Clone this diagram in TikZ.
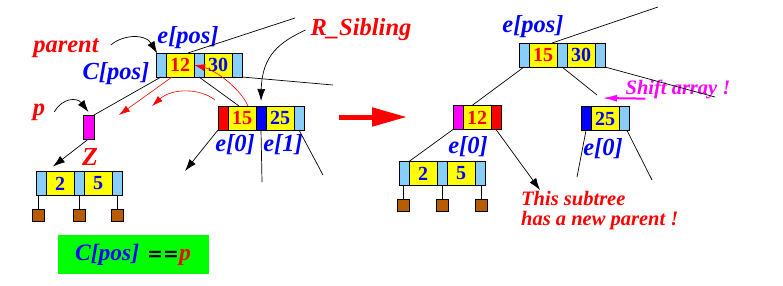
\documentclass[tikz,border=0pt]{standalone}
\usepackage{fontspec}
\usetikzlibrary{arrows.meta,positioning}
\newfontfamily\lblfont{Liberation Serif}
\newfontfamily\numfont{Liberation Serif}
\newfontfamily\eqfont{DejaVu Sans}
\definecolor{cellblue}{HTML}{87CEFA}
\definecolor{keyyellow}{HTML}{FFFF00}
\definecolor{leafbrown}{HTML}{B85C00}
\definecolor{txtblue}{HTML}{0000FF}
\definecolor{txtred}{HTML}{FF0000}
\definecolor{shiftpink}{HTML}{FF00FF}
\definecolor{boxgreen}{HTML}{00FF00}

\begin{document}
\begin{tikzpicture}[x=1pt,y=-1pt,
    cell/.style={draw,line width=0.9pt,minimum height=24pt,inner sep=0pt,outer sep=0pt},
    ptr/.style={cell,fill=cellblue,minimum width=10pt},
    keycell/.style={cell,fill=keyyellow,minimum width=28pt,font=\numfont\bfseries\fontsize{20}{20}\selectfont},
    leaf/.style={draw,line width=0.9pt,fill=leafbrown,minimum size=12pt,inner sep=0pt},
    lbl/.style={inner sep=0pt,font=\lblfont\bfseries\itshape\fontsize{24.5}{24.5}\selectfont},
    note/.style={inner sep=0pt,font=\lblfont\bfseries\itshape\fontsize{20.5}{20}\selectfont},
    link/.style={line width=0.7pt},
    tip/.style={-{Latex[length=12pt,width=8pt]}},
    redtip/.style={txtred,line width=0.6pt,-{Latex[length=11pt,width=7pt]}}]
  \useasboundingbox (0,0) rectangle (783,285);

  % --- before: parent, p and the right sibling
  \node[ptr,anchor=west] (lp0) at (156,65) {};
  \node[keycell,right=0pt of lp0,text=txtred] (lk1) {12};
  \node[ptr,right=0pt of lk1] (lp2) {};
  \node[keycell,right=0pt of lp2,text=txtblue] (lk2) {30};
  \node[ptr,right=0pt of lk2] (lp4) {};

  \node[cell,fill=txtred,minimum width=10pt,anchor=west] (rl0) at (218,118) {};
  \node[keycell,right=0pt of rl0,text=txtred] (rk1) {15};
  \node[cell,fill=txtblue,minimum width=10pt,right=0pt of rk1] (rp2) {};
  \node[keycell,right=0pt of rp2,text=txtblue] (rk2) {25};
  \node[ptr,right=0pt of rk2] (rp4) {};

  \node[cell,fill=shiftpink,minimum width=11pt] (mag) at (88.5,127) {};

  \node[ptr,anchor=west] (lo0) at (36,183.5) {};
  \node[keycell,right=0pt of lo0,text=txtblue] (lok1) {2};
  \node[ptr,right=0pt of lok1] (lo2) {};
  \node[keycell,right=0pt of lo2,text=txtblue] (lok2) {5};
  \node[ptr,right=0pt of lok2] (lo4) {};
  \foreach \x/\n in {38/a,79/b,117/c}{
    \node[leaf] (lf\n) at (\x,215) {};
    \draw[link] (lf\n.north) -- (lf\n.north |- lo0.south);
  }

  \node[lbl,text=txtred] (parent) at (66,48) {parent};
  \node[lbl,text=txtblue] (eposL) at (188,38) {e[pos]};
  \node[lbl,text=txtblue] (cpos) at (116,74) {C[pos]};
  \node[lbl,text=txtred] (plbl) at (39,112) {p};
  \node[lbl,text=txtred,font=\lblfont\bfseries\itshape\fontsize{26}{26}\selectfont] (zlbl) at (90,157) {Z};
  \node[lbl,text=txtred] (rsib) at (361,30) {R\_Sibling};
  \node[lbl,text=txtblue] (e0L) at (235,145) {e[0]};
  \node[lbl,text=txtblue] (e1L) at (283,145) {e[1]};

  \coordinate (upL) at (295,18);
  \coordinate (outL) at (333,85);
  \coordinate (dnL) at (185,171);
  \coordinate (dnM) at (262,182);
  \coordinate (dnR) at (323,175);
  \draw[link] ([xshift=-6pt]lk1.north east) -- (upL);
  \draw[link] (lp4.south east) -- (outL);
  \draw[link] (lp2.south) -- ([xshift=-3pt]rk1.north);
  \draw[link] (lp0.south) -- (mag.north east);
  \draw[link,tip] (mag.south) -- ([shift={(7pt,5pt)}]lok1.north west);
  \draw[link,tip] (rl0.south west) -- (dnL);
  \draw[link] (rp2.south) -- (dnM);
  \draw[link] (rp4.south) -- (dnR);

  \draw[link,tip] ([shift={(12pt,3pt)}]parent.east) .. controls (122,35) and (145,33) .. ([yshift=-4pt]eposL.south west);
  \draw[link,tip] ([xshift=9pt]plbl.east) .. controls (62,98) and (77,97) .. ([yshift=3pt]mag.north);
  \draw[link,tip] ([xshift=-5pt]rsib.west) .. controls (280,42) and (262,55) .. ([yshift=5pt]rp2.north);

  % borrow moves
  \coordinate (dropto) at (119,115);
  \coordinate (moveto) at (152,106);
  \draw[redtip] ([xshift=-8pt]lk1.south) -- (dropto);
  \draw[redtip] ([shift={(-3pt,6pt)}]rl0.north west) .. controls (200,88) and (172,88) .. (moveto);
  \draw[redtip] ([xshift=6pt]rk1.north) .. controls (240,88) and (215,70) .. (lk1.east);

  \coordinate (bigA) at (339,117);
  \coordinate (bigB) at (407,117);
  \draw[txtred,line width=5pt,-{Triangle[length=35pt,width=18pt]}] (bigA) -- (bigB);

  % --- after
  \node[ptr,anchor=west] (np0) at (519,55) {};
  \node[keycell,right=0pt of np0,text=txtred] (nk1) {15};
  \node[ptr,right=0pt of nk1] (np2) {};
  \node[keycell,right=0pt of np2,text=txtblue] (nk2) {30};
  \node[ptr,right=0pt of nk2] (np4) {};

  \node[cell,fill=shiftpink,minimum width=10pt,anchor=west] (mp0) at (453,117.5) {};
  \node[keycell,right=0pt of mp0,text=txtred] (mk) {12};
  \node[cell,fill=txtred,minimum width=10pt,right=0pt of mk] (mp2) {};

  \node[cell,fill=txtblue,minimum width=10pt,anchor=west] (sp0) at (581,118.5) {};
  \node[keycell,right=0pt of sp0,text=txtblue] (sk) {25};
  \node[ptr,right=0pt of sk] (sp2) {};

  \node[ptr,anchor=west] (qp0) at (399,173.5) {};
  \node[keycell,right=0pt of qp0,text=txtblue] (qk1) {2};
  \node[ptr,right=0pt of qk1] (qp2) {};
  \node[keycell,right=0pt of qp2,text=txtblue] (qk2) {5};
  \node[ptr,right=0pt of qk2] (qp4) {};
  \foreach \x/\n in {403/a,442.5/b,481/c}{
    \node[leaf] (rf\n) at (\x,205) {};
    \draw[link] (rf\n.north) -- (rf\n.north |- qp0.south);
  }

  \node[lbl,text=txtblue] (eposR) at (533,27) {e[pos]};
  \node[note,text=shiftpink] (shiftlbl) at (678,89) {Shift array !};
  \node[lbl,text=txtblue] (e0M) at (468,147) {e[0]};
  \node[lbl,text=txtblue] (e0S) at (603,149) {e[0]};
  \node[note,text=txtred,anchor=west,align=left] (sub) at (521,211) {This subtree\\has a new parent !};

  \coordinate (upR) at (658,7);
  \coordinate (outR) at (715,97);
  \coordinate (shiftend) at (597,95);
  \coordinate (shiftto) at (602,98);
  \coordinate (newpar) at (540,190);
  \coordinate (downA) at (577,177);
  \coordinate (downB) at (652,180);
  \draw[link] ([xshift=-5pt]nk1.north east) -- (upR);
  \draw[link] (np4.south east) -- (outR);
  \draw[link] (np0.south) -- ([xshift=-5pt]mk.north);
  \draw[link] (np2.south) -- (shiftend);
  \draw[shiftpink,line width=2pt,-{Latex[length=15pt,width=7pt]}] ([shift={(20pt,0pt)}]shiftlbl.south west) -- (shiftto);
  \draw[link] (mp0.south west) -- (qk1.north west);
  \draw[link,tip] (mp2.south) -- (newpar);
  \draw[link] (sp0.south) -- (downA);
  \draw[link] ([xshift=-2pt]sp2.south east) -- (downB);

  \node[fill=boxgreen,minimum width=151pt,minimum height=39pt,inner sep=0pt,
        font=\lblfont\bfseries\itshape\fontsize{23.5}{23.5}\selectfont] (cond) at (133,254.5)
        {\textcolor{txtblue}{C[pos]}\hspace{8pt}{\eqfont\bfseries\upshape\fontsize{19}{19}\selectfont ==}\textcolor{txtred}{p}};
\end{tikzpicture}
\end{document}
